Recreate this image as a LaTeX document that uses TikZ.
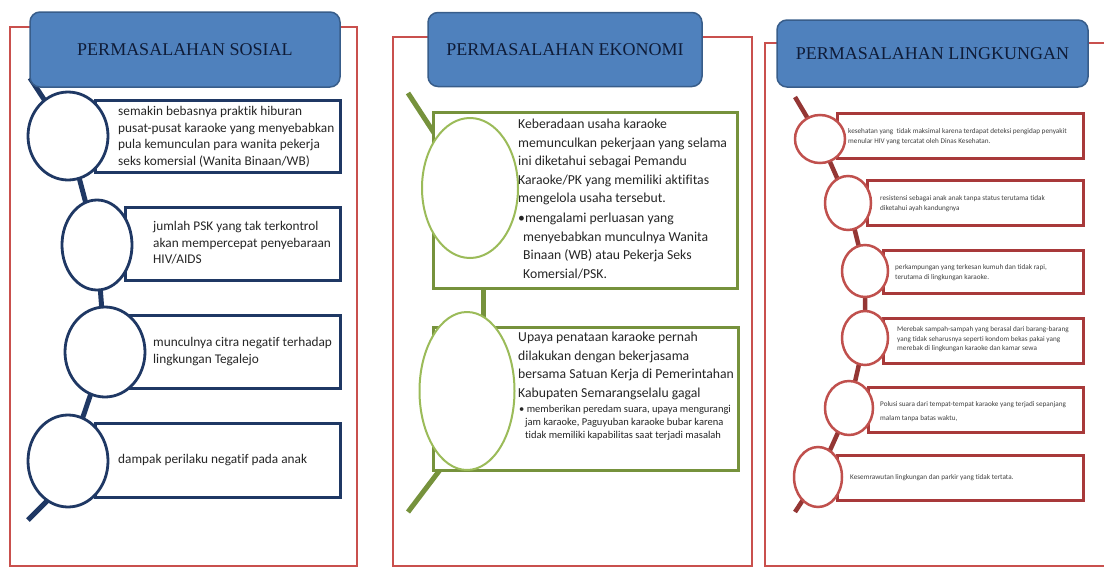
\documentclass[tikz,border=0pt]{standalone}
\usepackage{fontspec}
\setmainfont{Carlito}[Ligatures=NoCommon]
\newfontfamily\hdrfont{Liberation Serif}
\usetikzlibrary{shapes.geometric,backgrounds}
\definecolor{framered}{HTML}{C9504D}
\definecolor{hdrfill}{HTML}{4F81BD}
\definecolor{hdrborder}{HTML}{385D8A}
\definecolor{hdrtext}{HTML}{0F1C38}
\definecolor{navy}{HTML}{1F3864}
\definecolor{olive}{HTML}{76923C}
\definecolor{lightolive}{HTML}{9BBB59}
\definecolor{darkred}{HTML}{943634}
\definecolor{boxred}{HTML}{A8393A}
\definecolor{circred}{HTML}{C0504D}
\definecolor{txtcol}{HTML}{262626}
\begin{document}
\begin{tikzpicture}[x=1pt,y=-1pt,
  hdr/.style={draw=hdrborder, fill=hdrfill, line width=1.5pt, rounded corners=10pt,
    font=\hdrfont\fontsize{18}{20}\selectfont, text=hdrtext, inner sep=0},
  frame/.style={draw=framered, line width=2pt},
  rectbox/.style={rectangle, fill=white, inner sep=0},
  ovalbox/.style={ellipse, fill=white, inner sep=0},
  txt/.style={anchor=north west, inner sep=0, align=left, text=txtcol},
  spineA/.style={draw=navy, line width=5pt},
  spineB/.style={draw=olive, line width=5pt},
  spineC/.style={draw=darkred, line width=4.5pt},
  fA/.style={font=\fontsize{13.3}{16.6}\selectfont},
  fB/.style={font=\fontsize{13.7}{18.5}\selectfont},
  fBs/.style={font=\fontsize{10.5}{12.8}\selectfont},
  fC/.style={font=\fontsize{7.2}{9.5}\selectfont, text=black!75}
]
\useasboundingbox (0,0) rectangle (1104,568);

% ---------- frames ----------
\draw[frame] (10,27) rectangle (357,566);
\draw[frame] (393,37) rectangle (752,566);
\draw[frame] (1104,43) -- (765,43) -- (765,566) -- (1104,566);

% ---------- headers ----------
\node[hdr, minimum width=310, minimum height=75] (h1) at (185,49.5) {PERMASALAHAN SOSIAL};
\node[hdr, minimum width=274, minimum height=74] (h2) at (565,49.5) {PERMASALAHAN EKONOMI};
\node[hdr, minimum width=311, minimum height=67] (h3) at (932.5,53.5) {PERMASALAHAN LINGKUNGAN};

% ---------- column 1: sosial ----------
\coordinate (a0) at (30,78);
\coordinate (aT1) at (52,496);
\coordinate (aT2) at (28,520);
\node[rectbox, draw=navy, line width=3pt, minimum width=245, minimum height=72] (ab1) at (217.5,136) {};
\node[rectbox, draw=navy, line width=3pt, minimum width=215, minimum height=73] (ab2) at (232.5,243.5) {};
\node[rectbox, draw=navy, line width=3pt, minimum width=210, minimum height=73] (ab3) at (235,351.5) {};
\node[rectbox, draw=navy, line width=3pt, minimum width=245, minimum height=74] (ab4) at (217.5,460) {};
\node[ovalbox, draw=navy, line width=2.8pt, minimum width=80, minimum height=88] (ac1) at (68,136) {};
\node[ovalbox, draw=navy, line width=2.8pt, minimum width=70, minimum height=90] (ac2) at (97,245) {};
\node[ovalbox, draw=navy, line width=2.8pt, minimum width=80, minimum height=90] (ac3) at (105,352) {};
\node[ovalbox, draw=navy, line width=2.8pt, minimum width=80, minimum height=92] (ac4) at (68,461) {};
\node[txt, fA] (at1) at (118,106) {semakin bebasnya praktik hiburan\\pusat-pusat karaoke yang menyebabkan\\pula kemunculan para wanita pekerja\\seks komersial (Wanita Binaan/WB)};
\node[txt, fA] (at2) at (153,221) {jumlah PSK yang tak terkontrol\\akan mempercepat penyebaraan\\HIV/AIDS};
\node[txt, fA] (at3) at (153,337) {munculnya citra negatif terhadap\\lingkungan Tegalejo};
\node[txt, fA] (at4) at (118,454) {dampak perilaku negatif pada anak};
\begin{scope}[on background layer]
  \draw[spineA] (a0) -- (ac1.center) -- (ac2.center) -- (ac3.center) -- (ac4.center);
  \draw[spineA] (aT1) -- (aT2);
\end{scope}

% ---------- column 2: ekonomi ----------
\coordinate (b0) at (408,93);
\coordinate (bg1) at (483,280);
\coordinate (bg2) at (483,330);
\coordinate (bT1) at (455,450);
\coordinate (bT2) at (408,512);
\node[rectbox, draw=olive, line width=3pt, minimum width=304, minimum height=176] (bb1) at (585,200) {};
\node[rectbox, draw=olive, line width=3pt, minimum width=305, minimum height=143] (bb2) at (585.5,398.5) {};
\node[ovalbox, draw=lightolive, line width=2pt, minimum width=96, minimum height=140] (be1) at (470,188) {};
\node[ovalbox, draw=lightolive, line width=2pt, minimum width=95, minimum height=158] (be2) at (467,391) {};
\node[txt, fB] (bt1) at (518,119) {Keberadaan usaha karaoke\\memunculkan pekerjaan yang selama\\ini diketahui sebagai Pemandu\\Karaoke/PK yang memiliki aktifitas\\mengelola usaha tersebut.\\[1.5pt]\textbullet mengalami perluasan yang\\\hspace*{5pt}menyebabkan munculnya Wanita\\\hspace*{5pt}Binaan (WB) atau Pekerja Seks\\\hspace*{5pt}Komersial/PSK.};
\node[txt, fB] (bt2) at (518,332) {Upaya penataan karaoke pernah\\dilakukan dengan bekerjasama\\bersama Satuan Kerja di Pemerintahan\\Kabupaten Semarangselalu gagal};
\node[txt, fBs] (bt3) at (519,405) {\textbullet{} memberikan peredam suara, upaya mengurangi\\\hspace*{6pt}jam karaoke, Paguyuban karaoke bubar karena\\\hspace*{6pt}tidak memiliki kapabilitas saat terjadi masalah};
\begin{scope}[on background layer]
  \draw[spineB] (b0) -- (be1.center);
  \draw[spineB] (bg1) -- (bg2);
  \draw[spineB] (bT1) -- (bT2);
\end{scope}

% ---------- column 3: lingkungan ----------
\coordinate (c0) at (795,97);
\coordinate (cT) at (795,512);
\node[rectbox, draw=boxred, line width=3pt, minimum width=246, minimum height=45] (cb1) at (960,135.5) {};
\node[rectbox, draw=boxred, line width=3pt, minimum width=216, minimum height=45] (cb2) at (975,202.5) {};
\node[rectbox, draw=boxred, line width=3pt, minimum width=200, minimum height=43] (cb3) at (983,271.5) {};
\node[rectbox, draw=boxred, line width=3pt, minimum width=200, minimum height=45] (cb4) at (983,340.5) {};
\node[rectbox, draw=boxred, line width=3pt, minimum width=215, minimum height=45] (cb5) at (975.5,409.5) {};
\node[rectbox, draw=boxred, line width=3pt, minimum width=246, minimum height=45] (cb6) at (960,477.5) {};
\node[ovalbox, draw=circred, line width=2.5pt, minimum width=50, minimum height=48] (cc1) at (820,139) {};
\node[ovalbox, draw=circred, line width=2.5pt, minimum width=46, minimum height=54] (cc2) at (848,203) {};
\node[ovalbox, draw=circred, line width=2.5pt, minimum width=46, minimum height=52] (cc3) at (865,271) {};
\node[ovalbox, draw=circred, line width=2.5pt, minimum width=46, minimum height=54] (cc4) at (865,338) {};
\node[ovalbox, draw=circred, line width=2.5pt, minimum width=48, minimum height=54] (cc5) at (849,408) {};
\node[ovalbox, draw=circred, line width=2.5pt, minimum width=48, minimum height=60] (cc6) at (818,477) {};
\node[txt, fC] (ct1) at (848,128.5) {kesehatan yang\ \ tidak maksimal karena terdapat deteksi pengidap penyakit\\menular HIV yang tercatat oleh Dinas Kesehatan.};
\node[txt, fC] (ct2) at (880,195.5) {resistensi sebagai anak anak tanpa status terutama tidak\\diketahui ayah kandungnya};
\node[txt, fC] (ct3) at (895,264.5) {perkampungan yang terkesan kumuh dan tidak rapi,\\terutama di lingkungan karaoke.};
\node[txt, fC] (ct4) at (897,326.5) {Merebak sampah-sampah yang berasal dari barang-barang\\yang tidak seharusnya seperti kondom bekas pakai yang\\merebak di lingkungan karaoke dan kamar sewa};
\node[txt, fC] (ct5) at (880,401.5) {Polusi suara dari tempat-tempat karaoke yang terjadi sepanjang\\[4pt]malam tanpa batas waktu,};
\node[txt, fC] (ct6) at (850,474.5) {Kesemrawutan lingkungan dan parkir yang tidak tertata.};
\begin{scope}[on background layer]
  \draw[spineC] (c0) -- (cc1.center) -- (cc2.center) -- (cc3.center) -- (cc4.center) -- (cc5.center) -- (cc6.center) -- (cT);
\end{scope}
\end{tikzpicture}
\end{document}
